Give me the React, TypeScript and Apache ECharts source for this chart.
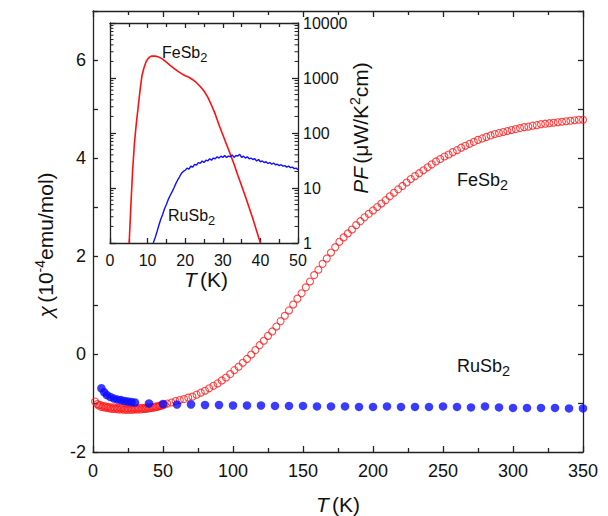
import React, { useEffect, useRef } from "react";
import * as echarts from "echarts";

// ---- Main panel: susceptibility chi (10^-4 emu/mol) vs T (K)
const feT: number[] = [
  1.5, 3, 4, 5, 6, 7, 8, 9, 10, 11, 12, 13, 14, 15, 16, 17, 18, 19, 20, 21, 22, 23, 24, 25, 26,
  27, 28, 29, 30, 31, 32, 33, 34, 35, 36, 37, 38, 39, 40, 41, 42, 43, 44, 45, 46, 47, 48, 49, 50, 51,
  53, 56, 59, 62, 65, 68, 71, 74, 77, 80, 83, 86, 89, 92, 95, 98, 101, 104, 107, 110, 113, 116, 119,
  122, 125, 128, 131, 134, 137, 140, 143, 146, 149, 152, 155, 158, 161, 164, 167, 170, 173, 176, 179,
  182, 185, 188, 191, 194, 197, 200, 203, 206, 209, 212, 215, 218, 221, 224, 227, 230, 233, 236, 239,
  242, 245, 248, 251, 254, 257, 260, 263, 266, 269, 272, 275, 278, 281, 284, 287, 290, 293, 296, 299,
  302, 305, 308, 311, 314, 317, 320, 323, 326, 329, 332, 335, 338, 341, 344, 347, 350,
];
const feChi: number[] = [
  -0.97, -1.02, -1.05, -1.04, -1.08, -1.06, -1.09, -1.07, -1.1, -1.08, -1.11, -1.09, -1.12, -1.09,
  -1.12, -1.1, -1.13, -1.1, -1.13, -1.1, -1.14, -1.11, -1.14, -1.11, -1.14, -1.11, -1.14, -1.11, -1.13,
  -1.11, -1.13, -1.1, -1.13, -1.1, -1.12, -1.1, -1.12, -1.09, -1.11, -1.09, -1.1, -1.08, -1.09, -1.07,
  -1.08, -1.06, -1.06, -1.05, -1.04, -1.03,
  -1.01, -0.99, -0.96, -0.94, -0.92, -0.89, -0.87, -0.83, -0.79, -0.75, -0.7, -0.65, -0.6, -0.54, -0.48,
  -0.41, -0.33, -0.26, -0.18, -0.1, -0.01, 0.08, 0.18, 0.27, 0.37, 0.46, 0.56, 0.67, 0.78, 0.89, 1.01,
  1.13, 1.24, 1.36, 1.48, 1.61, 1.72, 1.84, 1.95, 2.07, 2.18, 2.29, 2.38, 2.46, 2.54, 2.63, 2.71, 2.79,
  2.86, 2.93, 3.0, 3.07, 3.14, 3.22, 3.29, 3.36, 3.43, 3.5, 3.57, 3.63, 3.69, 3.75, 3.81, 3.87, 3.93,
  3.98, 4.03, 4.07, 4.12, 4.16, 4.21, 4.25, 4.29, 4.33, 4.37, 4.4, 4.43, 4.46, 4.49, 4.51, 4.53, 4.55,
  4.57, 4.59, 4.61, 4.63, 4.64, 4.66, 4.67, 4.69, 4.7, 4.71, 4.72, 4.73, 4.74, 4.75, 4.76, 4.77, 4.78,
  4.78,
];
const ruT: number[] = [
  6, 8, 10, 12.5, 15, 17.5, 20, 22.5, 25, 27.5, 30, 40, 50, 60, 70, 80, 90, 100, 110, 120, 130, 140,
  150, 160, 170, 180, 190, 200, 210, 220, 230, 240, 250, 260, 270, 280, 290, 300, 310, 320, 330, 340, 350,
];
const ruChi: number[] = [
  -0.7, -0.78, -0.84, -0.88, -0.91, -0.93, -0.94, -0.96, -0.97, -0.98, -0.99, -1.01, -1.02, -1.03, -1.03,
  -1.04, -1.04, -1.05, -1.05, -1.05, -1.06, -1.06, -1.06, -1.07, -1.07, -1.07, -1.08, -1.08, -1.07, -1.08,
  -1.08, -1.08, -1.07, -1.08, -1.09, -1.07, -1.09, -1.1, -1.1, -1.1, -1.1, -1.11, -1.11,
];

// ---- Inset: power factor PF (uW/K^2 cm) vs T (K), log scale
const fePfT: number[] = [
  5.1, 5.5, 6, 6.5, 7, 7.5, 8, 8.5, 9, 9.5, 10, 10.5, 11, 12, 13, 14, 15, 16, 17, 18, 19, 20, 21, 22,
  23, 24, 25, 26, 27, 28, 29, 30, 31, 32, 33, 34, 35, 36, 37, 38, 39, 40,
];
const fePf: number[] = [
  1, 4, 20, 65, 150, 300, 600, 1100, 1500, 1900, 2200, 2400, 2500, 2500, 2400, 2200, 1950, 1700, 1500,
  1330, 1200, 1100, 1030, 930, 820, 700, 580, 450, 320, 220, 140, 93, 62, 41, 27, 17, 11, 7, 4.4, 2.75,
  1.66, 1,
];
const ruPfT: number[] = [
  11.5, 12, 12.5, 13, 13.5, 14, 14.5, 15, 15.5, 16, 16.5, 17, 17.5, 18, 18.5, 19, 19.5, 20, 20.5, 21,
  21.5, 22, 22.5, 23, 23.5, 24, 24.5, 25, 25.5, 26, 26.5, 27, 27.5, 28, 28.5, 29, 29.5, 30, 30.5, 31,
  31.5, 32, 32.5, 33, 33.5, 34, 34.5, 35, 35.5, 36, 36.5, 37, 37.5, 38, 38.5, 39, 39.5, 40, 40.5, 41,
  41.5, 42, 42.5, 43, 43.5, 44, 44.5, 45, 45.5, 46, 46.5, 47, 47.5, 48, 48.5, 49, 49.5, 50,
];
const ruPf: number[] = [
  1, 1.25, 1.6, 2.1, 2.7, 3.3, 4.2, 5, 6.2, 7.3, 8.5, 10, 12, 14, 16, 18.5, 20, 21, 23, 22, 25, 24, 27,
  26, 29, 28, 31, 29, 32, 31, 34, 32, 35, 34, 37, 35, 38, 36, 39, 36, 38, 37, 40, 36, 39, 38, 41, 36,
  38, 35, 37, 34, 35, 33, 34, 31, 33, 30, 31, 29, 30, 28, 29, 27, 28.5, 26.5, 27, 25.5, 26.5, 25, 25.5,
  24, 25, 23.5, 24, 22.5, 23, 21.5,
];
const logMinorTicks: number[] = [
  2, 3, 4, 5, 6, 7, 8, 9, 20, 30, 40, 50, 60, 70, 80, 90, 200, 300, 400, 500, 600, 700, 800, 900,
  2000, 3000, 4000, 5000, 6000, 7000, 8000, 9000,
];
const insetYLabels: number[] = [1, 10, 100, 1000, 10000];

const FONT = "Liberation Sans, Arial, sans-serif";
const AX = "#222";

export default function App() {
  const ref = useRef<HTMLDivElement>(null);
  useEffect(() => {
    document.body.style.margin = "0";
    const chart = echarts.init(ref.current!, null, { renderer: "svg" });
    const lineStyle = { color: AX, width: 1.3 };
    const axisLine = { show: true, onZero: false, lineStyle };
    const rich = {
      i: { fontStyle: "italic", fontSize: 21, fontFamily: FONT, fill: "#111" },
      n: { fontSize: 21, fontFamily: FONT, fill: "#111" },
      sup: { fontSize: 14, fontFamily: FONT, fill: "#111", padding: [0, 0, 10, 0] },
      sub: { fontSize: 14, fontFamily: FONT, fill: "#111", padding: [10, 0, 0, 0] },
    };
    const label = (x: number, y: number, name: string, size: number) => ({
      type: "text",
      x,
      y,
      style: {
        text: `{n|${name}}{sub|2}`,
        fontFamily: FONT,
        rich: {
          n: { fontSize: size, fontFamily: FONT, fill: "#111" },
          sub: { fontSize: size * 0.8, fontFamily: FONT, fill: "#111", padding: [size * 0.55, 0, 0, 0] },
        },
      },
    });
    chart.setOption({
      animation: false,
      grid: [
        { left: 93, top: 11, width: 490, height: 441, containLabel: false },
        { left: 110, top: 23, width: 188, height: 220, containLabel: false },
      ],
      xAxis: [
        {
          type: "value", gridIndex: 0, min: 0, max: 350, interval: 50, position: "bottom",
          axisLine, splitLine: { show: false },
          axisTick: { inside: true, length: 6, lineStyle },
          minorTick: { show: true, splitNumber: 2, length: 4, lineStyle },
          axisLabel: { margin: 10, fontSize: 18, fontFamily: FONT, color: "#111" },
        },
        {
          type: "value", gridIndex: 0, min: 0, max: 350, interval: 50, position: "top",
          axisLine, splitLine: { show: false },
          axisTick: { inside: true, length: 6, lineStyle },
          minorTick: { show: true, splitNumber: 2, length: 4, lineStyle },
          axisLabel: { show: false },
        },
        {
          type: "value", gridIndex: 1, min: 0, max: 50, interval: 10, position: "bottom",
          axisLine, splitLine: { show: false },
          axisTick: { inside: true, length: 5, lineStyle },
          minorTick: { show: true, splitNumber: 2, length: 4, lineStyle },
          axisLabel: { margin: 9, fontSize: 16, fontFamily: FONT, color: "#111" },
        },
        {
          type: "value", gridIndex: 1, min: 0, max: 50, interval: 10, position: "top",
          axisLine, splitLine: { show: false },
          axisTick: { inside: true, length: 5, lineStyle },
          minorTick: { show: true, splitNumber: 2, length: 4, lineStyle },
          axisLabel: { show: false },
        },
      ],
      yAxis: [
        {
          type: "value", gridIndex: 0, min: -2, max: 7, interval: 1, position: "left",
          axisLine, splitLine: { show: false },
          axisTick: { show: true, inside: true, length: 5, lineStyle },
          axisLabel: {
            margin: 7, fontSize: 18, fontFamily: FONT, color: "#111",
            formatter: (v: number) => (Math.round(v) % 2 === 0 && v < 7 ? String(v) : ""),
          },
        },
        {
          type: "value", gridIndex: 0, min: -2, max: 7, interval: 1, position: "right",
          axisLine, splitLine: { show: false },
          axisTick: { show: true, inside: true, length: 5, lineStyle },
          axisLabel: { show: false },
        },
        {
          type: "log", logBase: 10, gridIndex: 1, min: 1, max: 10000, position: "left",
          axisLine, splitLine: { show: false },
          axisTick: { show: true, inside: true, length: 6, lineStyle },
          axisLabel: { show: false },
        },
        {
          type: "log", logBase: 10, gridIndex: 1, min: 1, max: 10000, position: "right",
          axisLine, splitLine: { show: false },
          axisTick: { show: true, inside: true, length: 6, lineStyle },
          axisLabel: {
            margin: 5, fontSize: 16, fontFamily: FONT, color: "#111",
            formatter: (v: number) => (insetYLabels.some((l) => Math.abs(l - v) < 1e-6 * l) ? String(Math.round(v)) : ""),
          },
        },
      ],
      series: [
        {
          type: "scatter", xAxisIndex: 0, yAxisIndex: 0,
          data: feT.map((t, i) => [t, feChi[i]]),
          symbol: "circle", symbolSize: 7,
          itemStyle: { color: "rgba(255,255,255,0)", borderColor: "#ff1a1a", borderWidth: 1.1 },
          clip: true,
        },
        {
          type: "scatter", xAxisIndex: 0, yAxisIndex: 0,
          data: ruT.map((t, i) => [t, ruChi[i]]),
          symbol: "circle", symbolSize: 8.5,
          itemStyle: { color: "#0a0aff" },
          clip: true,
        },
        {
          type: "line", xAxisIndex: 2, yAxisIndex: 3,
          data: fePfT.map((t, i) => [t, fePf[i]]),
          showSymbol: false, smooth: false,
          lineStyle: { color: "#ff1010", width: 1.6 },
        },
        {
          type: "line", xAxisIndex: 2, yAxisIndex: 3,
          data: ruPfT.map((t, i) => [t, ruPf[i]]),
          showSymbol: false, smooth: false,
          lineStyle: { color: "#1010ff", width: 1.4 },
        },
        {
          type: "custom", xAxisIndex: 2, yAxisIndex: 3, clip: false, silent: true,
          data: logMinorTicks.map((v) => [0, v]),
          renderItem: (params: any, api: any) => {
            const v = api.value(1);
            const l = api.coord([0, v]);
            const r = api.coord([50, v]);
            const st = { stroke: AX, lineWidth: 1 };
            return {
              type: "group",
              children: [
                { type: "line", shape: { x1: l[0], y1: l[1], x2: l[0] + 3.5, y2: l[1] }, style: st },
                { type: "line", shape: { x1: r[0] - 3.5, y1: r[1], x2: r[0], y2: r[1] }, style: st },
              ],
            };
          },
        },
      ],
      graphic: [
        {
          type: "text", x: 338, y: 504,
          style: { text: "{i|T} {n|(K)}", rich, align: "center", verticalAlign: "middle" },
        },
        {
          type: "text", x: 206, y: 279,
          style: { text: "{i|T} {n|(K)}", rich, align: "center", verticalAlign: "middle" },
        },
        {
          type: "text", x: 45, y: 245, rotation: Math.PI / 2,
          style: { text: "{i|χ} {n|(10}{sup|-4}{n|emu/mol)}", rich, align: "center", verticalAlign: "middle" },
        },
        {
          type: "text", x: 360, y: 128, rotation: Math.PI / 2,
          style: { text: "{i|PF} {n|(μW/K}{sup|2}{n|cm)}", rich, align: "center", verticalAlign: "middle" },
        },
        label(457, 168, "FeSb", 18),
        label(457, 354, "RuSb", 18),
        label(162, 42, "FeSb", 16),
        label(168, 205, "RuSb", 16),
      ],
    });
    return () => chart.dispose();
  }, []);
  return <div ref={ref} style={{ width: 608, height: 516 }} />;
}
